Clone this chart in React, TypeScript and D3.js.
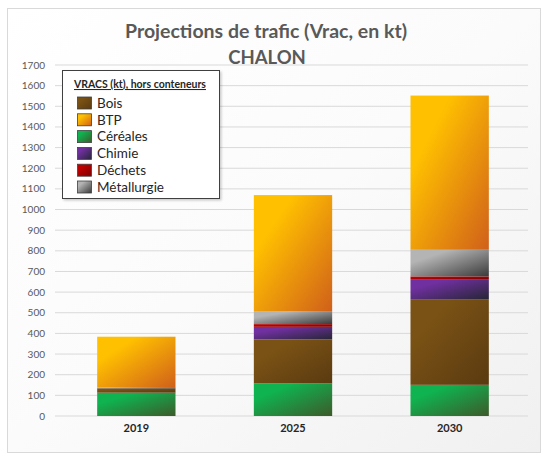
import React from "react";
import * as d3 from "d3";

const years = ["2019", "2025", "2030"];
const stackOrder = ["Céréales", "Bois", "Chimie", "Déchets", "Métallurgie", "BTP"];
const legendOrder = ["Bois", "BTP", "Céréales", "Chimie", "Déchets", "Métallurgie"];
const cereales = [113, 158, 151];
const bois = [21, 213, 415];
const chimie = [0, 61, 97];
const dechets = [0, 13, 13];
const metallurgie = [6, 63, 129];
const btp = [244, 562, 747];
const yTicks = d3.range(0, 1701, 100);

const seriesValues: Record<string, number[]> = {
  "Céréales": cereales,
  "Bois": bois,
  "Chimie": chimie,
  "Déchets": dechets,
  "Métallurgie": metallurgie,
  "BTP": btp,
};

const colors: Record<string, [string, string]> = {
  "Bois": ["#7a5215", "#5a3a10"],
  "BTP": ["#ffc000", "#d0601a"],
  "Céréales": ["#0fb350", "#3d5a2a"],
  "Chimie": ["#7030a0", "#262636"],
  "Déchets": ["#c00000", "#800000"],
  "Métallurgie": ["#b4b4b4", "#3a3a3a"],
};

const W = 547, H = 456;
const plot = { left: 58, right: 528, top: 65, bottom: 416 };
const font = "Lato, 'Open Sans', sans-serif";

export default function App() {
  const x = d3.scaleBand<string>().domain(years).range([plot.left, plot.right]).paddingInner(0.5).paddingOuter(0.25);
  const y = d3.scaleLinear().domain([0, 1700]).range([plot.bottom, plot.top]);
  const table = years.map((yr, i) => {
    const row: any = { year: yr };
    stackOrder.forEach((k) => (row[k] = seriesValues[k][i]));
    return row;
  });
  const stacked = d3.stack<any>().keys(stackOrder)(table);
  const id = (k: string) => "g" + stackOrder.indexOf(k);

  return (
    <svg width={W} height={H} style={{ position: "absolute", left: 0, top: 0 }} fontFamily={font}>
      <defs>
        <linearGradient id="bg" x1="0" y1="0" x2="1" y2="1">
          <stop offset="0" stopColor="#ffffff" />
          <stop offset="0.5" stopColor="#fbfbfb" />
          <stop offset="1" stopColor="#f0f0f0" />
        </linearGradient>
        {stackOrder.map((k) => (
          <linearGradient key={k} id={id(k)} x1="0" y1="0" x2="1" y2="1">
            <stop offset="0.25" stopColor={colors[k][0]} />
            <stop offset="1" stopColor={colors[k][1]} />
          </linearGradient>
        ))}
        <filter id="shadow" x="-10%" y="-10%" width="130%" height="130%">
          <feDropShadow dx="1.5" dy="1.5" stdDeviation="1" floodColor="#000" floodOpacity="0.2" />
        </filter>
      </defs>
      <rect x={0} y={0} width={W} height={H} fill="#ffffff" />
      <rect x={7.5} y={8.5} width={533} height={444} fill="url(#bg)" stroke="#d9d9d9" />
      {yTicks.map((t) => (
        <g key={t}>
          <line x1={55} x2={plot.right} y1={y(t)} y2={y(t)} stroke="#d9d9d9" strokeWidth={1} />
          <text x={45} y={y(t)} dy="0.35em" textAnchor="end" fontSize={10} fill="#595959">{t}</text>
        </g>
      ))}
      {stacked.map((s) =>
        s.map((d, i) => (
          <rect
            key={s.key + i}
            x={x(years[i])}
            width={x.bandwidth()}
            y={y(d[1])}
            height={Math.max(0, y(d[0]) - y(d[1]))}
            fill={`url(#${id(s.key)})`}
          />
        ))
      )}
      {years.map((yr) => (
        <text key={yr} x={(x(yr) as number) + x.bandwidth() / 2} y={428} dy="0.35em" textAnchor="middle" fontSize={11} fontWeight="bold" fill="#262626">{yr}</text>
      ))}
      <text x={266} y={38} textAnchor="middle" fontSize={19.5} fontWeight="bold" fill="#595959">Projections de trafic (Vrac, en kt)</text>
      <text x={267} y={64} textAnchor="middle" fontSize={18.5} fontWeight="bold" fill="#595959">CHALON</text>
      <g>
        <rect x={62.5} y={70.5} width={157} height={128} fill="#ffffff" stroke="#404040" strokeWidth={1} filter="url(#shadow)" />
        <text x={74} y={88} fontSize={10.5} fontWeight="bold" fill="#262626" textDecoration="underline">VRACS (kt), hors conteneurs</text>
        {legendOrder.map((k, i) => {
          const cy = 103 + i * 16.8;
          return (
            <g key={k}>
              <rect x={77.5} y={cy - 6} width={14} height={12} fill={`url(#${id(k)})`} stroke="#404040" strokeWidth={0.8} />
              <text x={97} y={cy} dy="0.35em" fontSize={13.5} fill="#262626">{k}</text>
            </g>
          );
        })}
      </g>
    </svg>
  );
}
